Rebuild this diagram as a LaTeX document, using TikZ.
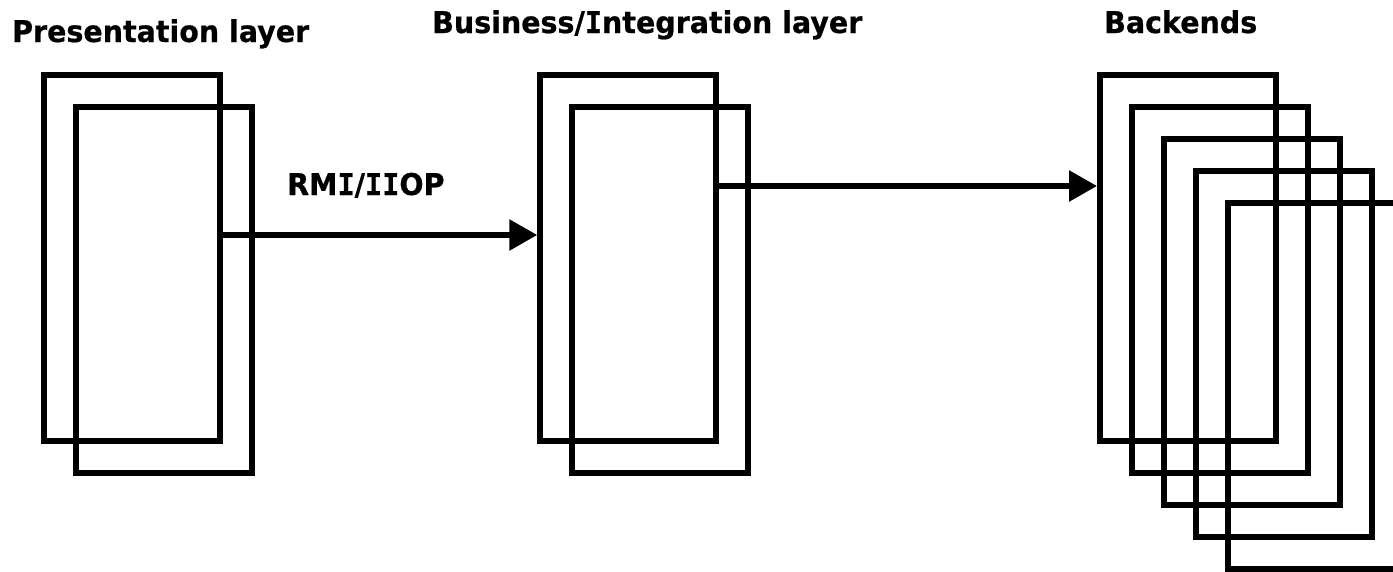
\documentclass[tikz,border=0pt]{standalone}
\usepackage{fontspec}
\setmainfont{DejaVu Sans}
\newfontfamily\headfont[FakeStretch=0.95,BoldFeatures={FakeBold=0.6}]{DejaVu Sans}
% capital I with crossbars, taken from the mono face
\newfontfamily\barIfont[FakeStretch=0.95,BoldFeatures={FakeBold=0.6}]{DejaVu Sans Mono}
\newcommand\barI{{\barIfont\bfseries I}}
\usetikzlibrary{arrows.meta}
\begin{document}
\begin{tikzpicture}[x=1pt,y=-1pt,
  tier/.style={draw=black, line width=6pt, inner sep=0pt,
    minimum width=176pt, minimum height=366.5pt},
  heading/.style={anchor=base west, inner sep=0pt,
    font=\fontsize{30}{36}\headfont\bfseries},
  flow/.style={draw=black, line width=6pt,
    -{Triangle[length=28pt,width=30pt]}}]
\useasboundingbox (0,0) rectangle (1393,571);
\clip (0,0) rectangle (1393,571);

% headings
\node[heading] (tp) at (12,42) {Presentation layer};
\node[heading] (tb) at (432,33) {Business/\barI ntegration layer};
\node[heading] (tk) at (1104,33) {Backends};
\node[heading] (tr) at (287,195) {RM\barI/\barI\barI OP};

% presentation tier
\node[tier] (p1) at (132.25,257.75) {};
\node[tier] (p2) at (164.25,289.75) {};

% business/integration tier
\node[tier] (b1) at (628.25,257.75) {};
\node[tier] (b2) at (660.25,289.75) {};

% backend stack
\foreach \i in {1,...,5}
  \node[tier] (k\i) at ({1188+32*(\i-1)},{257.75+32*(\i-1)}) {};

% connections
\draw[flow] ([yshift=22.75pt]p1.east) -- ([yshift=22.75pt]b1.west);
\draw[flow] ([yshift=71.75pt]b1.east) -- ([yshift=71.75pt]k1.west);
\end{tikzpicture}
\end{document}
